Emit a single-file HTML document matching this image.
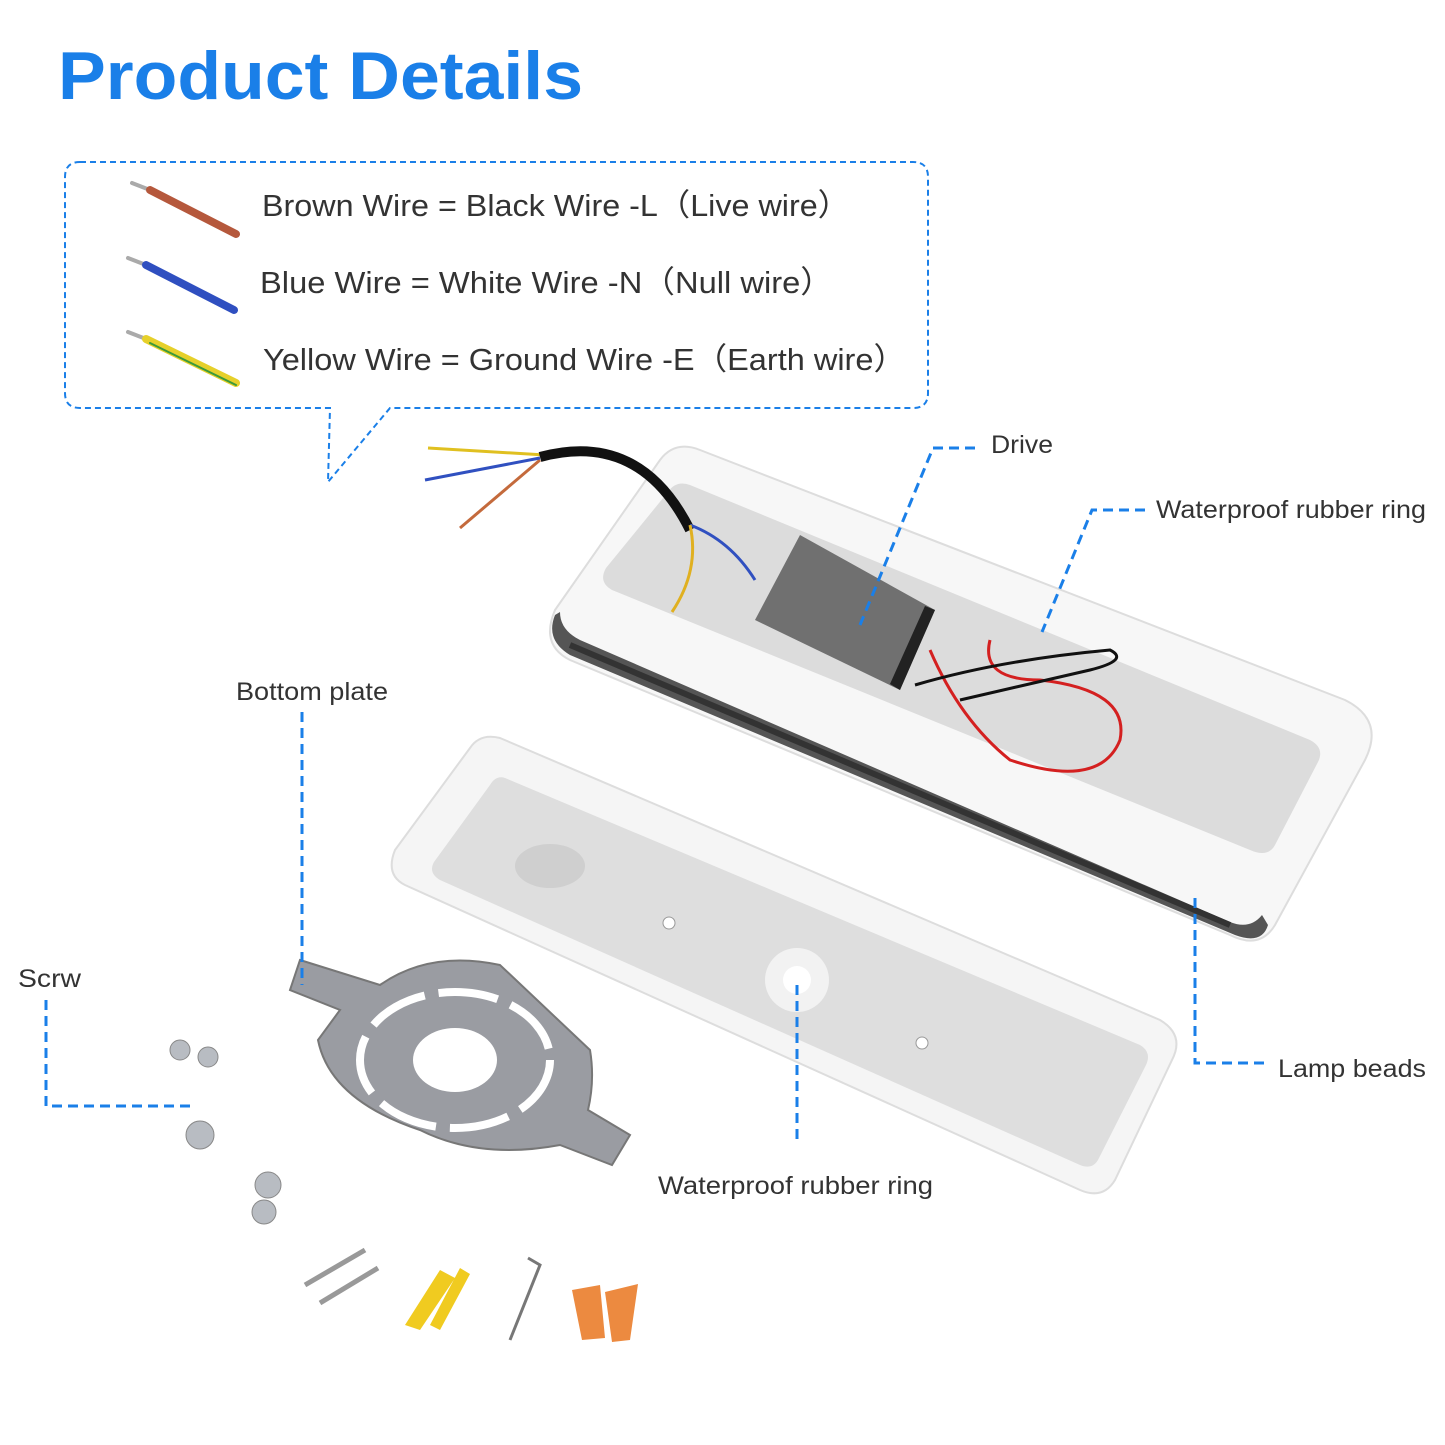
<!DOCTYPE html>
<html><head><meta charset="utf-8"><style>
html,body{margin:0;padding:0;background:#fff;}
svg{display:block}
text{font-family:"Liberation Sans",sans-serif;}
</style></head><body>
<svg width="1445" height="1445" viewBox="0 0 1445 1445" xmlns="http://www.w3.org/2000/svg">
<text x="58" y="99" font-size="68" font-weight="bold" fill="#1a7fe8" textLength="525" lengthAdjust="spacingAndGlyphs">Product Details</text>
<path d="M80,162 H913 Q928,162 928,177 V393 Q928,408 913,408 H390 L328,482 L330,408 H80 Q65,408 65,393 V177 Q65,162 80,162 Z" fill="none" stroke="#1a7fe8" stroke-width="2" stroke-dasharray="6,4"/>
<g stroke-linecap="round">
<line x1="132" y1="183" x2="150" y2="190" stroke="#aaa" stroke-width="4"/>
<line x1="150" y1="190" x2="236" y2="234" stroke="#b5583c" stroke-width="8"/>
<line x1="128" y1="258" x2="146" y2="265" stroke="#aaa" stroke-width="4"/>
<line x1="146" y1="265" x2="234" y2="310" stroke="#2f4fc0" stroke-width="8"/>
<line x1="128" y1="332" x2="146" y2="339" stroke="#aaa" stroke-width="4"/>
<line x1="146" y1="339" x2="236" y2="383" stroke="#e6d02a" stroke-width="8"/>
<line x1="150" y1="343" x2="236" y2="385" stroke="#3c9a3a" stroke-width="2"/>
</g>
<g font-size="31" fill="#333">
<text x="262" y="216" textLength="588" lengthAdjust="spacingAndGlyphs">Brown Wire = Black Wire -L（Live wire）</text>
<text x="260" y="293" textLength="573" lengthAdjust="spacingAndGlyphs">Blue Wire = White Wire -N（Null  wire）</text>
<text x="263" y="370" textLength="643" lengthAdjust="spacingAndGlyphs">Yellow Wire = Ground Wire -E（Earth wire）</text>
</g>
<!-- top lamp -->
<path d="M700,450 L1345,700 Q1385,720 1365,760 L1275,925 Q1260,950 1230,935 L570,660 Q540,645 555,610 L660,460 Q675,440 700,450 Z" fill="#f7f7f7" stroke="#ddd" stroke-width="2"/>
<path d="M555,615 Q545,640 570,655 L1235,935 Q1262,945 1268,925 L1262,915 Q1250,930 1230,922 L580,640 Q560,630 560,612 Z" fill="#555"/>
<path d="M570,645 L1230,925" stroke="#333" stroke-width="6"/>
<path d="M690,485 L1310,740 Q1325,748 1318,762 L1275,845 Q1268,858 1250,850 L612,590 Q598,582 606,568 L668,492 Q676,480 690,485 Z" fill="#dcdcdc"/>
<path d="M800,535 L935,610 L900,690 L755,620 Z" fill="#707070"/>
<path d="M935,610 L900,690 L890,684 L925,606 Z" fill="#222"/>
<path d="M460,528 L540,460" stroke="#c46a3c" stroke-width="3" fill="none"/>
<path d="M428,448 L545,455" stroke="#e0c020" stroke-width="3"/>
<path d="M425,480 L540,458" stroke="#3050c0" stroke-width="3"/>
<path d="M540,457 Q640,430 690,530" stroke="#111" stroke-width="10" fill="none"/>
<path d="M690,525 Q730,540 755,580" stroke="#3050c0" stroke-width="3" fill="none"/>
<path d="M690,525 Q700,570 672,612" stroke="#e0b020" stroke-width="3" fill="none"/>
<path d="M930,650 Q960,720 1010,760 Q1100,790 1120,740 Q1130,690 1040,680 Q980,680 990,640" stroke="#d42020" stroke-width="3" fill="none"/>
<path d="M915,685 Q1000,660 1110,650 Q1130,660 1090,670 L960,700" stroke="#111" stroke-width="3" fill="none"/>
<!-- bottom plate -->
<path d="M500,738 L1160,1020 Q1185,1035 1172,1060 L1115,1180 Q1103,1200 1080,1190 L405,885 Q385,875 395,850 L470,748 Q480,733 500,738 Z" fill="#f5f5f5" stroke="#ddd" stroke-width="2"/>
<path d="M505,778 L1140,1045 Q1152,1052 1146,1065 L1098,1160 Q1092,1170 1080,1165 L440,880 Q428,873 434,862 L490,785 Q496,775 505,778 Z" fill="#dedede"/>
<ellipse cx="550" cy="866" rx="35" ry="22" fill="#cfcfcf"/>
<circle cx="797" cy="980" r="32" fill="#f2f2f2"/><circle cx="797" cy="980" r="14" fill="#fff"/>
<circle cx="669" cy="923" r="6" fill="#fff" stroke="#999"/>
<circle cx="922" cy="1043" r="6" fill="#fff" stroke="#999"/>
<!-- bracket -->
<path d="M300,960 L380,985 Q430,950 500,965 L590,1050 Q595,1080 588,1110 L630,1135 L612,1165 L560,1145 Q480,1160 420,1130 Q330,1100 318,1040 L340,1010 L290,990 Z" fill="#9a9ca2" stroke="#777" stroke-width="2"/>
<ellipse cx="455" cy="1060" rx="95" ry="68" fill="none" stroke="#fff" stroke-width="8" stroke-dasharray="60,14"/>
<ellipse cx="455" cy="1060" rx="42" ry="32" fill="#fff"/>
<!-- small parts -->
<g fill="#b8bcc2" stroke="#888">
<circle cx="180" cy="1050" r="10"/><circle cx="208" cy="1057" r="10"/>
<circle cx="200" cy="1135" r="14"/><circle cx="268" cy="1185" r="13"/><circle cx="264" cy="1212" r="12"/>
</g>
<path d="M305,1285 L365,1250 M320,1303 L378,1268" stroke="#999" stroke-width="5"/>
<path d="M405,1325 L440,1270 L455,1278 L420,1330 Z M430,1325 L460,1268 L470,1274 L440,1330 Z" fill="#f0cb20"/>
<path d="M510,1340 L540,1265 L528,1258" stroke="#777" stroke-width="3" fill="none"/>
<path d="M572,1290 L600,1285 L605,1338 L582,1340 Z M605,1292 L638,1284 L630,1340 L612,1342 Z" fill="#ec8a40"/>
<!-- connectors -->
<g stroke="#1a7fe8" stroke-width="3" stroke-dasharray="10,6" fill="none">
<path d="M975,448 H933 L860,625"/>
<path d="M1145,510 H1092 L1042,632"/>
<path d="M302,712 V985"/>
<path d="M46,1000 V1106 H190"/>
<path d="M797,985 V1140"/>
<path d="M1195,898 V1063 H1270"/>
</g>
<g font-size="25" fill="#333">
<text x="991" y="453" textLength="62" lengthAdjust="spacingAndGlyphs">Drive</text>
<text x="1156" y="518" textLength="270" lengthAdjust="spacingAndGlyphs">Waterproof rubber ring</text>
<text x="236" y="700" textLength="152" lengthAdjust="spacingAndGlyphs">Bottom plate</text>
<text x="18" y="987" textLength="63" lengthAdjust="spacingAndGlyphs">Scrw</text>
<text x="1278" y="1077" textLength="148" lengthAdjust="spacingAndGlyphs">Lamp beads</text>
<text x="658" y="1194" textLength="275" lengthAdjust="spacingAndGlyphs">Waterproof rubber ring</text>
</g>
</svg>
</body></html>
